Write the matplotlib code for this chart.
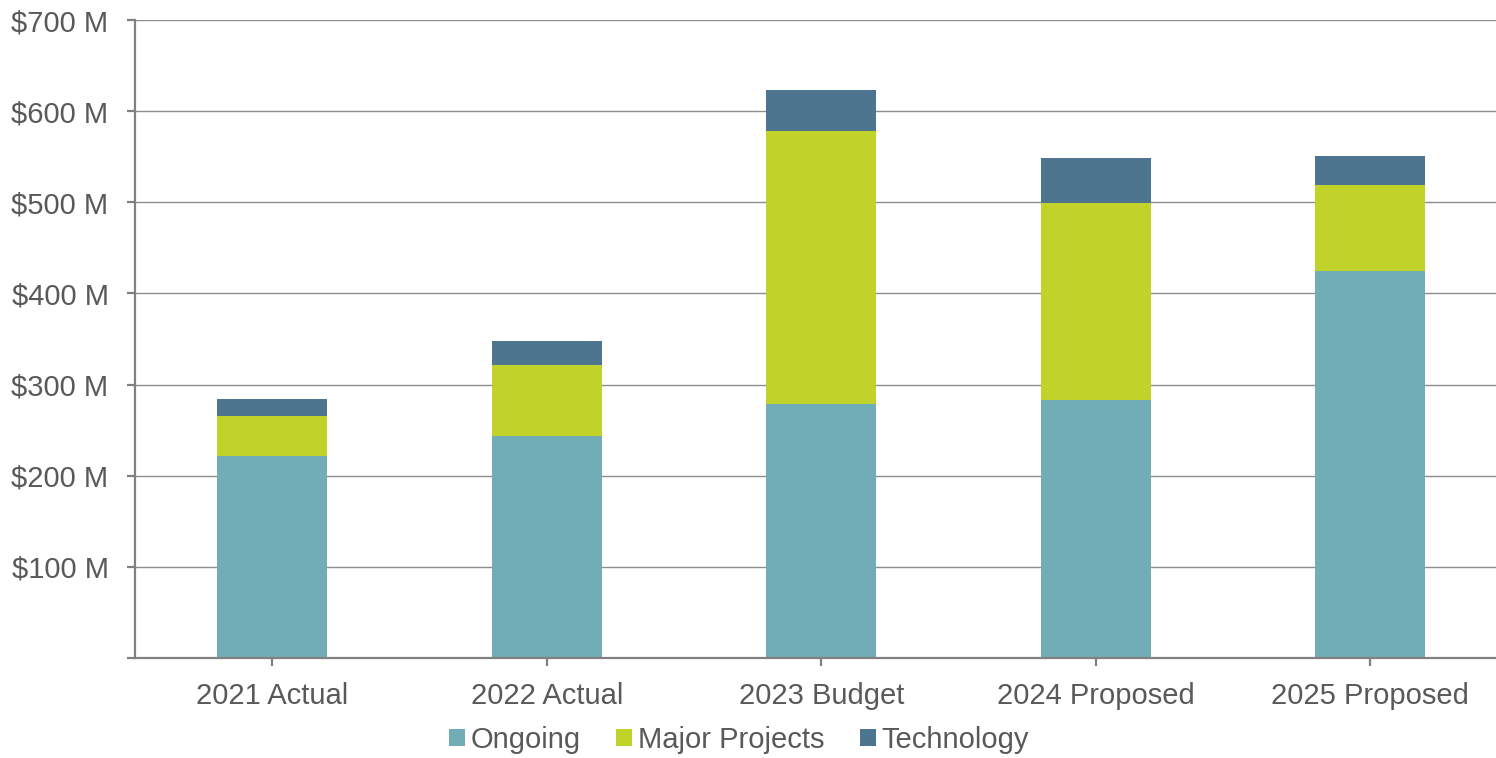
import numpy as np
import matplotlib.pyplot as plt
from matplotlib.ticker import FuncFormatter

plt.rcParams['font.family'] = ['Liberation Sans', 'DejaVu Sans']

# dados (milhões de dólares)
categorias = ['2021 Actual', '2022 Actual', '2023 Budget', '2024 Proposed', '2025 Proposed']
ongoing = np.array([222, 244, 279, 283, 425])
major_projects = np.array([44, 78, 299, 216, 94])
technology = np.array([18, 26, 45, 50, 32])

cor_ongoing = '#71ADB7'
cor_major = '#C1D32A'
cor_tech = '#4E758F'
cor_texto = '#595959'
cor_eixo = '#808080'

fig = plt.figure(figsize=(14.96, 7.58), dpi=100)
ax = fig.add_axes([135 / 1496, 100 / 758, 1361 / 1496, 638 / 758])

x = np.arange(len(categorias))
largura = 0.4
ax.bar(x, ongoing, largura, color=cor_ongoing, label='Ongoing', zorder=3)
ax.bar(x, major_projects, largura, bottom=ongoing, color=cor_major, label='Major Projects', zorder=3)
ax.bar(x, technology, largura, bottom=ongoing + major_projects, color=cor_tech, label='Technology', zorder=3)

ax.set_xlim(-0.5, -0.5 + 1361 / 274.5)
ax.set_ylim(0, 700)
ax.set_yticks(np.arange(0, 701, 100))
ax.yaxis.set_major_formatter(FuncFormatter(lambda v, p: '' if v == 0 else '$%d M' % v))
ax.set_xticks(x)
ax.set_xticklabels(categorias)

# grade horizontal
for v in range(100, 701, 100):
    ax.axhline(v, color='#8c8c8c', linewidth=1.0, zorder=1)

for s in ['top', 'right']:
    ax.spines[s].set_visible(False)
for s in ['left', 'bottom']:
    ax.spines[s].set_color(cor_eixo)
    ax.spines[s].set_linewidth(1.6)
    ax.spines[s].set_zorder(4)

ax.tick_params(axis='y', length=6, width=1.6, color=cor_eixo, pad=13, labelsize=21, labelcolor=cor_texto)
ax.tick_params(axis='x', length=6, width=1.6, color=cor_eixo, pad=11, labelsize=21, labelcolor=cor_texto)

fig.legend(loc='center', bbox_to_anchor=(739 / 1496, 1 - 740 / 758), ncol=3, frameon=False,
           fontsize=21, labelcolor=cor_texto, handlelength=0.55, handleheight=0.55,
           handletextpad=0.2, columnspacing=1.2, borderpad=0)

fig.savefig('out.png', dpi=100)
